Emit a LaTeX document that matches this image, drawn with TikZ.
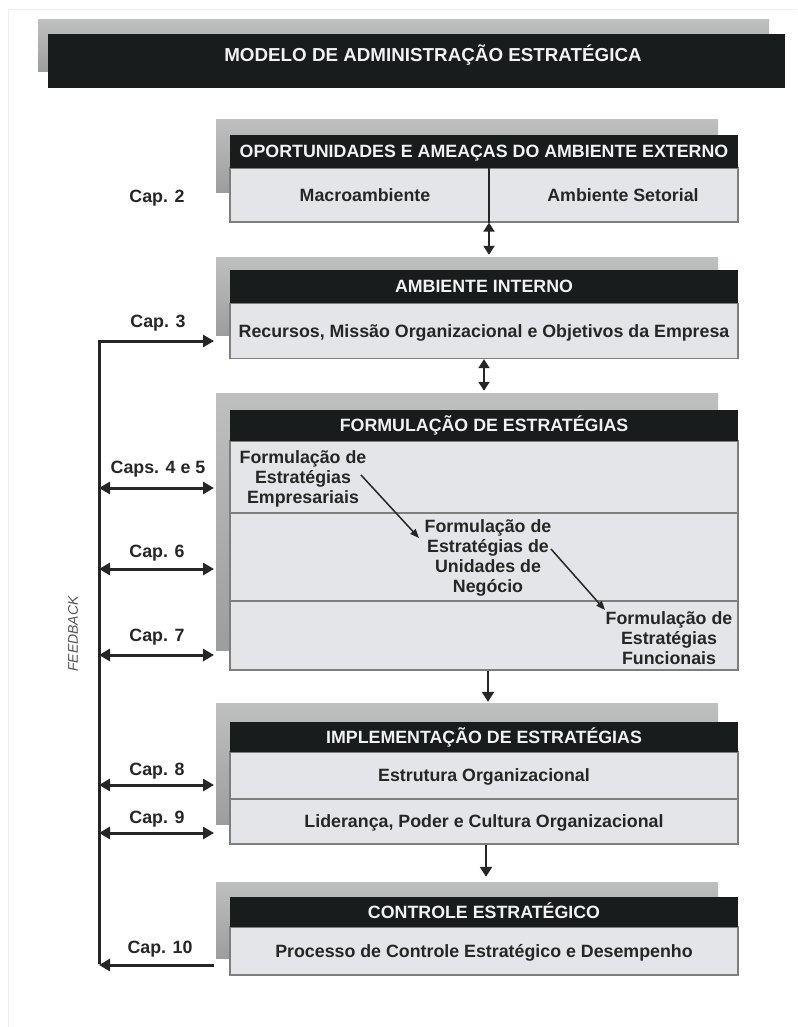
\documentclass[tikz,border=0pt]{standalone}
\usepackage{fontspec}
\setmainfont{Liberation Sans}
\usetikzlibrary{arrows.meta}
\definecolor{hdrblack}{HTML}{181C1C}
\definecolor{bodyfill}{HTML}{E3E5E8}
\definecolor{shadtop}{HTML}{BEBFBF}
\definecolor{shadbot}{HTML}{9C9D9D}
\definecolor{edgegray}{HTML}{7E7E7E}
\definecolor{txtdark}{HTML}{262626}
\definecolor{hdrtxt}{HTML}{F2F2F2}
\definecolor{faint}{HTML}{EEEEEE}
\definecolor{fbgray}{HTML}{555555}
\tikzset{
  shadowbox/.style={top color=shadtop, bottom color=shadbot, draw=none, inner sep=0pt},
  hdr/.style={fill=hdrblack, text=hdrtxt, minimum width=508pt, inner sep=0pt,
    text height=12.6pt, text depth=0pt, font=\fontsize{17.8}{20}\selectfont\bfseries},
  bodybox/.style={fill=bodyfill, draw=edgegray, line width=1.3pt, minimum width=508pt, inner sep=0pt,
    text=txtdark, text height=12.6pt, text depth=0pt, font=\fontsize{17.8}{20}\selectfont\bfseries},
  txt/.style={text=txtdark, inner sep=0pt, text height=12.6pt, text depth=0pt,
    font=\fontsize{17.8}{20}\selectfont\bfseries},
  mtxt/.style={text=txtdark, inner sep=0pt, align=center, anchor=north,
    font=\fontsize{17.8}{20.2}\selectfont\bfseries},
  sidearrow/.style={line width=3pt, draw=black!85, {Triangle[length=11pt,width=12pt]}-{Triangle[length=11pt,width=12pt]}},
  onearrow/.style={line width=3pt, draw=black!85, -{Triangle[length=11pt,width=12pt]}},
  fbline/.style={line width=3pt, draw=black!85},
  vdbl/.style={line width=2pt, draw=black!85, {Triangle[length=9pt,width=11pt]}-{Triangle[length=9pt,width=11pt]}},
  vone/.style={line width=2.4pt, draw=black!85, -{Triangle[length=10pt,width=12pt]}},
  diag/.style={line width=1.5pt, draw=black!85, -{Triangle[length=9pt,width=7pt]}},
  divider/.style={line width=1.1pt, draw=edgegray}
}
\begin{document}
\begin{tikzpicture}[x=1pt,y=-1pt]
\useasboundingbox (0,0) rectangle (797,1027);
\fill[white] (0,0) rectangle (797,1027);
\draw[faint, line width=1pt] (8,1027) -- (8,10) -- (797,10);

% title
\node[shadowbox, minimum width=731pt, minimum height=52pt] (ts) at (403.5,46) {};
\node[fill=hdrblack, minimum width=737pt, minimum height=54pt, inner sep=0pt] (tb) at (416.5,61) {};
\node[text=hdrtxt, inner sep=0pt, text height=13.5pt, text depth=0pt,
  font=\fontsize{18.8}{22}\selectfont\bfseries] (tt) at (433,55) {MODELO DE ADMINISTRAÇÃO ESTRATÉGICA};

% shadows
\node[shadowbox, minimum width=502pt, minimum height=72pt] (s1) at (467,156) {};
\node[shadowbox, minimum width=502pt, minimum height=78pt] (s2) at (467,296) {};
\node[shadowbox, minimum width=502pt, minimum height=257pt] (s3) at (467,521.5) {};
\node[shadowbox, minimum width=502pt, minimum height=121pt] (s4) at (467,763.5) {};
\node[shadowbox, minimum width=502pt, minimum height=76pt] (s5) at (467,920) {};

% box 1
\node[bodybox, minimum height=54pt] (b1) at (484,195) {};
\node[hdr, minimum height=33pt] (h1) at (484,151.5) {OPORTUNIDADES E AMEAÇAS DO AMBIENTE EXTERNO};
\node[txt] (macro) at (365,195) {Macroambiente};
\node[txt] (setor) at (623,195) {Ambiente Setorial};

% box 2
\node[bodybox, minimum height=55pt] (b2) at (484,331) {Recursos, Missão Organizacional e Objetivos da Empresa};
\node[hdr, minimum height=33pt] (h2) at (484,286.5) {AMBIENTE INTERNO};

% box 3
\node[bodybox, minimum height=229pt] (b3) at (484,555.5) {};
\node[hdr, minimum height=31pt] (h3) at (484,425.5) {FORMULAÇÃO DE ESTRATÉGIAS};
\coordinate (y513) at (0,513);
\coordinate (y601) at (0,601);
\draw[divider] (b3.west |- y513) -- (b3.east |- y513);
\draw[divider] (b3.west |- y601) -- (b3.east |- y601);
\node[mtxt] (fe) at (303,450) {Formulação de\\Estratégias\\Empresariais};
\node[mtxt] (fu) at (488,519) {Formulação de\\Estratégias de\\Unidades de\\Negócio};
\node[mtxt] (ff) at (669,611) {Formulação de\\Estratégias\\Funcionais};
\coordinate (feout) at (361,475);
\coordinate (fuin) at (419,538);
\coordinate (fuout) at (551,549);
\coordinate (ffin) at (605,610);
\draw[diag] (feout) -- (fuin);
\draw[diag] (fuout) -- (ffin);

% box 4
\node[bodybox, minimum height=47pt] (b4a) at (484,775.5) {Estrutura Organizacional};
\node[bodybox, minimum height=45pt] (b4b) at (484,821.5) {Liderança, Poder e Cultura Organizacional};
\node[hdr, minimum height=30pt] (h4) at (484,737) {IMPLEMENTAÇÃO DE ESTRATÉGIAS};

% box 5
\node[bodybox, minimum height=48pt] (b5) at (484,951) {Processo de Controle Estratégico e Desempenho};
\node[hdr, minimum height=30pt] (h5) at (484,912) {CONTROLE ESTRATÉGICO};

% vertical connectors
\coordinate (c1) at (489,0);
\coordinate (c2) at (484,0);
\coordinate (c3) at (488,0);
\coordinate (c4) at (486,0);
\draw[line width=1.6pt, draw=black!85] (h1.south -| c1) -- (b1.south -| c1);
\draw[vdbl] (b1.south -| c1) -- ([yshift=2pt]s2.north -| c1);
\draw[vdbl] (b2.south -| c2) -- ([yshift=2pt]s3.north -| c2);
\draw[vone] (b3.south -| c3) -- ([yshift=1pt]s4.north -| c3);
\draw[vone] (b4b.south -| c4) -- ([yshift=5pt]s5.north -| c4);

% feedback
\coordinate (fb3) at (99,341);
\coordinate (in3) at (214,341);
\coordinate (fb45) at (99,488);
\coordinate (in45) at (214,488);
\coordinate (fb6) at (99,569);
\coordinate (in6) at (214,569);
\coordinate (fb7) at (99,655);
\coordinate (in7) at (214,655);
\coordinate (fb8) at (99,785);
\coordinate (in8) at (214,785);
\coordinate (fb9) at (99,833);
\coordinate (in9) at (214,833);
\coordinate (fb10) at (99,965);
\coordinate (in10) at (214,965);
\draw[fbline] ([yshift=1.5pt]fb10) -- ([yshift=-1.5pt]fb3);
\draw[onearrow] ([xshift=-1.5pt]fb3) -- (in3);
\draw[sidearrow] (fb45) -- (in45);
\draw[sidearrow] (fb6) -- (in6);
\draw[sidearrow] (fb7) -- (in7);
\draw[sidearrow] (fb8) -- (in8);
\draw[sidearrow] (fb9) -- (in9);
\draw[onearrow] (in10) -- (fb10);

\node[txt] (l2) at (157,196) {Cap. 2};
\node[txt] (l3) at (158,321) {Cap. 3};
\node[txt] (l45) at (158,467) {Caps. 4 e 5};
\node[txt] (l6) at (157,551) {Cap. 6};
\node[txt] (l7) at (157,635) {Cap. 7};
\node[txt] (l8) at (157,769) {Cap. 8};
\node[txt] (l9) at (157,817) {Cap. 9};
\node[txt] (l10) at (160,947) {Cap. 10};

\node[rotate=90, text=fbgray, inner sep=0pt, font=\fontsize{14}{16}\selectfont\itshape] (fb) at (73,634) {FEEDBACK};
\end{tikzpicture}
\end{document}
